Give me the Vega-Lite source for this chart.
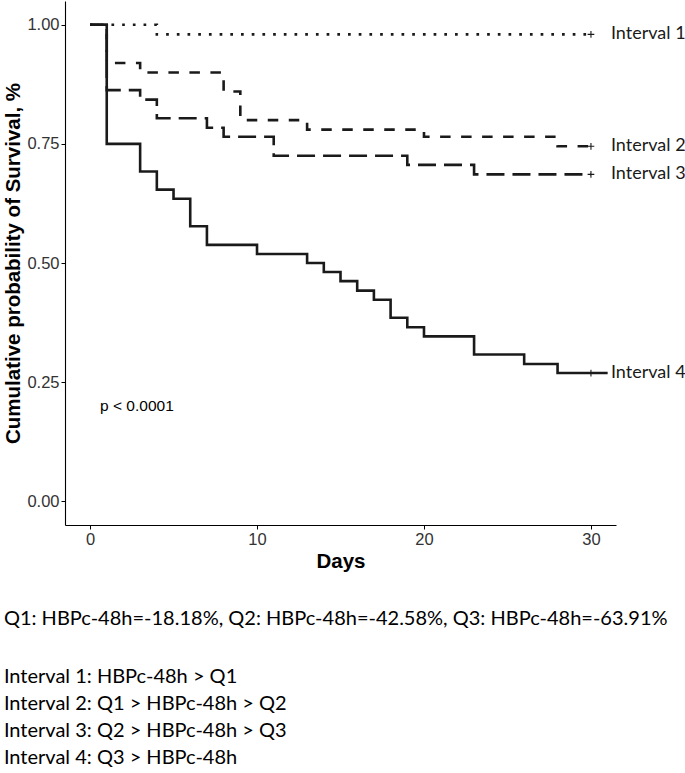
{
  "$schema": "https://vega.github.io/schema/vega-lite/v6.json",
  "width": 551,
  "height": 524,
  "autosize": {"type": "none"},
  "padding": {"left": 65, "top": 1, "right": 69, "bottom": 248},
  "background": "white",
  "config": {
    "view": {"stroke": null},
    "font": "Liberation Sans",
    "axis": {
      "grid": false,
      "domainColor": "#000000",
      "domainWidth": 1.1,
      "tickColor": "#000000",
      "tickWidth": 1,
      "tickSize": 4,
      "labelFont": "Liberation Sans",
      "labelFontSize": 16.5,
      "labelColor": "#333333",
      "labelPadding": 2,
      "titleFont": "Liberation Sans",
      "titleFontSize": 20.5,
      "titleFontWeight": "bold",
      "titleColor": "#000000"
    }
  },
  "title": {
    "text": "Q1: HBPc-48h=-18.18%, Q2: HBPc-48h=-42.58%, Q3: HBPc-48h=-63.91%",
    "subtitle": [
      "Interval 1: HBPc-48h > Q1",
      "Interval 2: Q1 > HBPc-48h > Q2",
      "Interval 3: Q2 > HBPc-48h > Q3",
      "Interval 4: Q3 > HBPc-48h"
    ],
    "orient": "bottom",
    "anchor": "start",
    "frame": "bounds",
    "font": "Lato",
    "fontSize": 20,
    "fontWeight": "normal",
    "color": "#000000",
    "subtitleFont": "Lato",
    "subtitleFontSize": 20,
    "subtitleColor": "#000000",
    "subtitleLineHeight": 27,
    "subtitlePadding": 38,
    "offset": 37
  },
  "datasets": {
    "curves": [
      {"group": "Interval 1", "day": 0, "surv": 1.0},
      {"group": "Interval 1", "day": 4, "surv": 0.98},
      {"group": "Interval 1", "day": 30, "surv": 0.98},
      {"group": "Interval 2", "day": 0, "surv": 1.0},
      {"group": "Interval 2", "day": 1, "surv": 0.92},
      {"group": "Interval 2", "day": 3, "surv": 0.90},
      {"group": "Interval 2", "day": 8, "surv": 0.86},
      {"group": "Interval 2", "day": 9, "surv": 0.80},
      {"group": "Interval 2", "day": 13, "surv": 0.78},
      {"group": "Interval 2", "day": 20, "surv": 0.765},
      {"group": "Interval 2", "day": 28, "surv": 0.745},
      {"group": "Interval 2", "day": 30, "surv": 0.745},
      {"group": "Interval 3", "day": 0, "surv": 1.0},
      {"group": "Interval 3", "day": 1, "surv": 0.863},
      {"group": "Interval 3", "day": 3, "surv": 0.843},
      {"group": "Interval 3", "day": 4, "surv": 0.804},
      {"group": "Interval 3", "day": 7, "surv": 0.784},
      {"group": "Interval 3", "day": 8, "surv": 0.765},
      {"group": "Interval 3", "day": 11, "surv": 0.725},
      {"group": "Interval 3", "day": 19, "surv": 0.706},
      {"group": "Interval 3", "day": 23, "surv": 0.686},
      {"group": "Interval 3", "day": 30, "surv": 0.686},
      {"group": "Interval 4", "day": 0, "surv": 1.0},
      {"group": "Interval 4", "day": 1, "surv": 0.75},
      {"group": "Interval 4", "day": 3, "surv": 0.692},
      {"group": "Interval 4", "day": 4, "surv": 0.654},
      {"group": "Interval 4", "day": 5, "surv": 0.635},
      {"group": "Interval 4", "day": 6, "surv": 0.577},
      {"group": "Interval 4", "day": 7, "surv": 0.538},
      {"group": "Interval 4", "day": 10, "surv": 0.519},
      {"group": "Interval 4", "day": 13, "surv": 0.5},
      {"group": "Interval 4", "day": 14, "surv": 0.481},
      {"group": "Interval 4", "day": 15, "surv": 0.462},
      {"group": "Interval 4", "day": 16, "surv": 0.442},
      {"group": "Interval 4", "day": 17, "surv": 0.423},
      {"group": "Interval 4", "day": 18, "surv": 0.385},
      {"group": "Interval 4", "day": 19, "surv": 0.365},
      {"group": "Interval 4", "day": 20, "surv": 0.346},
      {"group": "Interval 4", "day": 23, "surv": 0.308},
      {"group": "Interval 4", "day": 26, "surv": 0.288},
      {"group": "Interval 4", "day": 28, "surv": 0.269},
      {"group": "Interval 4", "day": 31, "surv": 0.269}
    ],
    "censor": [
      {"group": "Interval 1", "day": 30, "surv": 0.98},
      {"group": "Interval 2", "day": 30, "surv": 0.745},
      {"group": "Interval 3", "day": 30, "surv": 0.686},
      {"group": "Interval 4", "day": 30, "surv": 0.269}
    ],
    "annot": [
      {"label": "p < 0.0001", "day": 0.6, "surv": 0.2}
    ]
  },
  "layer": [
    {
      "data": {"name": "curves"},
      "mark": {"type": "line", "interpolate": "step-after", "strokeWidth": 2.6, "color": "#1a1a1a", "clip": false},
      "encoding": {
        "x": {
          "field": "day", "type": "quantitative",
          "scale": {"domain": [-1.5, 31.5], "nice": false, "zero": false},
          "axis": {"title": "Days", "values": [0, 10, 20, 30], "titlePadding": 4}
        },
        "y": {
          "field": "surv", "type": "quantitative",
          "scale": {"domain": [-0.05, 1.05], "nice": false, "zero": false},
          "axis": {"title": "Cumulative probability of Survival, %", "values": [0, 0.25, 0.5, 0.75, 1], "format": ".2f", "titlePadding": 3}
        },
        "strokeDash": {
          "field": "group", "type": "nominal",
          "scale": {"domain": ["Interval 1", "Interval 2", "Interval 3", "Interval 4"], "range": [[2.7, 8], [10.5, 10.5], [18, 8], [1, 0]]},
          "legend": null
        }
      }
    },
    {
      "data": {"name": "censor"},
      "mark": {"type": "point", "shape": "M-1,0H1M0,-1V1", "filled": false, "size": 45, "strokeWidth": 1.1, "color": "#1a1a1a", "opacity": 1},
      "encoding": {
        "x": {"field": "day", "type": "quantitative"},
        "y": {"field": "surv", "type": "quantitative"}
      }
    },
    {
      "data": {"name": "censor"},
      "mark": {"type": "text", "align": "left", "baseline": "middle", "dx": 20, "font": "Lato", "fontSize": 18, "color": "#1a1a1a"},
      "encoding": {
        "x": {"field": "day", "type": "quantitative"},
        "y": {"field": "surv", "type": "quantitative"},
        "text": {"field": "group"}
      }
    },
    {
      "data": {"name": "annot"},
      "mark": {"type": "text", "align": "left", "baseline": "middle", "font": "Liberation Sans", "fontSize": 15.5, "color": "#000000"},
      "encoding": {
        "x": {"field": "day", "type": "quantitative"},
        "y": {"field": "surv", "type": "quantitative"},
        "text": {"field": "label"}
      }
    }
  ]
}
